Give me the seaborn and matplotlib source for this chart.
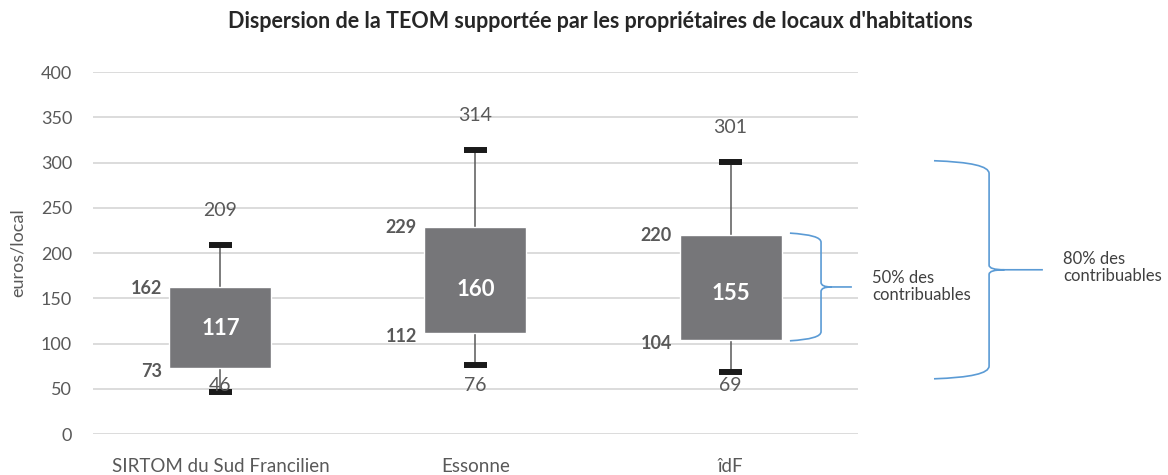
import numpy as np
import pandas as pd
import seaborn as sns
import matplotlib.pyplot as plt
from matplotlib.path import Path
from matplotlib.patches import PathPatch

sns.set_style("white")
plt.rcParams['font.family'] = ['Lato', 'DejaVu Sans']

# data
zones = ["SIRTOM du Sud Francilien", "Essonne", "îdF"]
p10 = [46, 76, 69]
q1 = [73, 112, 104]
median = [117, 160, 155]
q3 = [162, 229, 220]
p90 = [209, 314, 301]

df = pd.DataFrame({"zone": zones, "q1": q1, "med": median, "q3": q3,
                   "p10": p10, "p90": p90})
df["iqr"] = df["q3"] - df["q1"]

grey = "#595959"
box_col = "#767679"
blue = "#5B9BD5"

fig = plt.figure(figsize=(11.68, 4.75), dpi=100)
ax = fig.add_axes([0.0796, 0.0863, 0.655, 0.762])

# whiskers + caps
pos = np.arange(len(zones))
ax.vlines(pos, df["p10"], df["p90"], color=grey, lw=1.1, zorder=2)
ax.hlines(df["p10"], pos - 0.044, pos + 0.044, color="#1a1a1a", lw=4.3, zorder=3)
ax.hlines(df["p90"], pos - 0.044, pos + 0.044, color="#1a1a1a", lw=4.3, zorder=3)

# boxes (Q1 -> Q3)
sns.barplot(data=df, x="zone", y="iqr", bottom=df["q1"], color=box_col,
            saturation=1, width=0.4, ax=ax, zorder=4)

# labels
for i, r in df.iterrows():
    ax.text(i, r["med"], f"{r['med']}", color="white", fontsize=16,
            fontweight="bold", ha="center", va="center", zorder=5)
    ax.text(i - 0.23, r["q3"] - 1, f"{r['q3']}", color=grey, fontsize=13,
            fontweight="bold", ha="right", va="center")
    ax.text(i - 0.23, r["q1"] - 4, f"{r['q1']}", color=grey, fontsize=13,
            fontweight="bold", ha="right", va="center")
    ax.text(i, r["p90"] + 38, f"{r['p90']}", color=grey, fontsize=14,
            ha="center", va="center")
    ax.text(i, 54, f"{r['p10']}", color=grey, fontsize=14,
            ha="center", va="center", zorder=6)


def brace(x0, xs, xt, top, bot, r=10, dx=0.04):
    mid = (top + bot) / 2
    verts = [(x0, top), (xs, top - 2), (xs, top - r),
             (xs, mid + 5), (xs, mid), (xs + dx, mid), (xt, mid),
             (xs + dx, mid), (xs, mid), (xs, mid - 5),
             (xs, bot + r), (xs, bot + 2), (x0, bot)]
    codes = [Path.MOVETO, Path.CURVE3, Path.CURVE3,
             Path.LINETO, Path.CURVE3, Path.CURVE3, Path.LINETO,
             Path.MOVETO, Path.CURVE3, Path.CURVE3,
             Path.LINETO, Path.CURVE3, Path.CURVE3]
    ax.add_patch(PathPatch(Path(verts, codes), fill=False, ec=blue, lw=1.2,
                           clip_on=False))


brace(2.233, 2.355, 2.476, q3[2] + 2, q1[2] - 1)
brace(2.798, 3.014, 3.225, p90[2] + 1, p10[2] - 8, r=14, dx=0.06)
ax.text(2.555, 163, "50% des\ncontribuables", fontsize=12, color="#404040",
        ha="left", va="center", linespacing=1.15)
ax.text(3.305, 184, "80% des\ncontribuables", fontsize=12, color="#404040",
        ha="left", va="center", linespacing=1.15)

ax.set_ylim(0, 400)
ax.set_xlim(-0.5, 2.5)
ax.set_yticks(range(0, 401, 50))
ax.yaxis.grid(True, color="#d9d9d9", lw=1.3)
ax.set_axisbelow(True)
for s in ax.spines.values():
    s.set_visible(False)
ax.tick_params(axis="y", length=0, pad=15, labelsize=13, labelcolor=grey)
ax.tick_params(axis="x", length=0, pad=17, labelsize=13.5, labelcolor=grey)
ax.set_xlabel("")
ax.set_ylabel("euros/local", fontsize=13, color=grey)
ax.yaxis.set_label_coords(-0.088, 0.5)

fig.text(0.514, 1 - 21 / 475, "Dispersion de la TEOM supportée par les propriétaires de locaux d'habitations",
         ha="center", va="center", fontsize=15.5, fontweight="bold", color="#262626")

fig.savefig("out.png", dpi=100)
